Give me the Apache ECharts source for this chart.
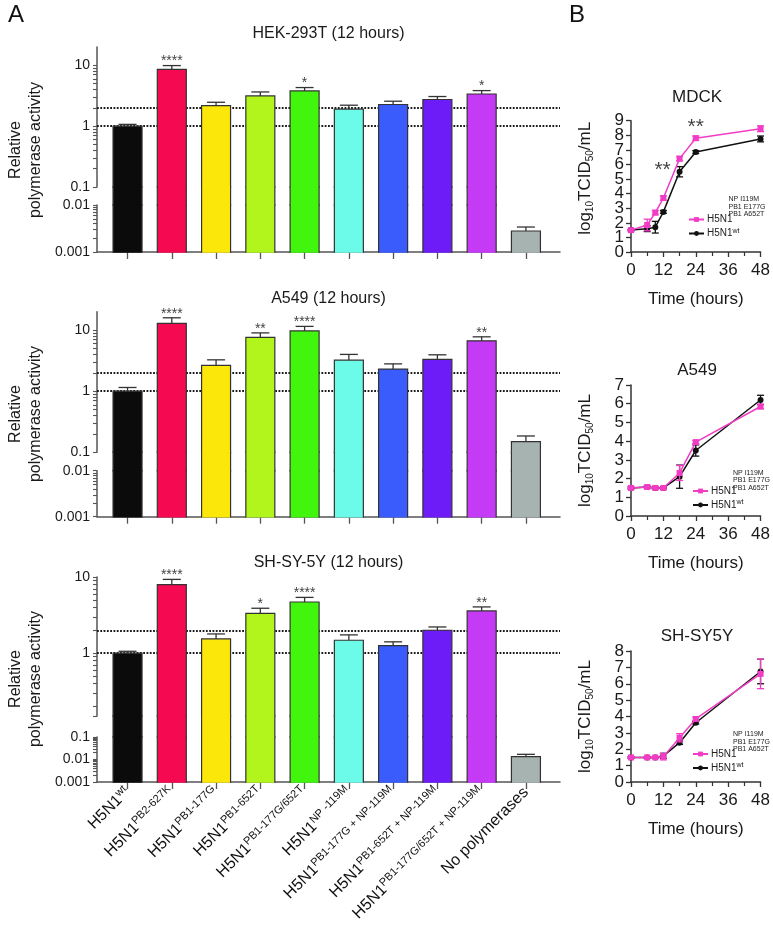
<!DOCTYPE html>
<html>
<head>
<meta charset="utf-8">
<script src="https://cdn.jsdelivr.net/npm/echarts@6/dist/echarts.min.js"></script>
<style>
  html, body { margin: 0; padding: 0; background: #fff; }
  #chart { width: 773px; height: 940px; }
</style>
</head>
<body>
<div id="chart"></div>
<script>
// ---- data: panel A (relative polymerase activity, 12 h) ----
const strainBase = ['H5N1', 'H5N1', 'H5N1', 'H5N1', 'H5N1', 'H5N1', 'H5N1', 'H5N1', 'H5N1', 'No polymerases']
const strainSup = ['wt', 'PB2-627K', 'PB1-177G', 'PB1-652T', 'PB1-177G/652T', 'NP -119M',
  'PB1-177G + NP-119M', 'PB1-652T + NP-119M', 'PB1-177G/652T + NP-119M', '']
const barColors = ['#0b0b0b', '#f50a52', '#fbe80a', '#b2f51c', '#42f50c', '#6cfbe8', '#3a5cfc', '#6d1cf8', '#c53bf5', '#a7b3b1']

const hekValues = [1.0, 8.6, 2.18, 3.14, 3.79, 1.9, 2.27, 2.74, 3.38, 0.0028]
const hekErrTop = [1.07, 9.9, 2.47, 3.65, 4.31, 2.21, 2.57, 3.07, 3.84, 0.0034]
const hekStars = ['', '****', '', '', '*', '', '', '', '*', '']

const a549Values = [1.0, 12.9, 2.64, 7.6, 9.7, 3.22, 2.3, 3.31, 6.68, 0.15]
const a549ErrTop = [1.15, 15.9, 3.26, 9.0, 11.5, 4.0, 2.8, 3.94, 7.76, 0.185]
const a549Stars = ['', '****', '', '**', '****', '', '', '', '**', '']

const shValues = [1.0, 7.95, 1.54, 3.34, 4.7, 1.48, 1.26, 2.0, 3.59, 0.0133]
const shErrTop = [1.06, 9.3, 1.79, 3.89, 5.4, 1.74, 1.41, 2.21, 4.05, 0.017]
const shStars = ['', '****', '', '*', '****', '', '', '', '**', '']

const thresholdLines = [1, 2]

// ---- data: panel B (growth curves) ----
const hours = [0, 6, 9, 12, 18, 24, 48]
const hourTicks = [0, 12, 24, 36, 48]

const mdckMut = [1.5, 1.85, 2.7, 3.7, 6.4, 7.8, 8.45]
const mdckMutErr = [0.05, 0.4, 0.15, 0.15, 0.15, 0.15, 0.2]
const mdckWt = [1.5, 1.6, 1.7, 2.75, 5.5, 6.85, 7.75]
const mdckWtErr = [0.05, 0.2, 0.4, 0.1, 0.35, 0.1, 0.2]
const mdckStarPoints = [[11.7, 5.62], [24, 8.58]]

const a549Mut = [1.5, 1.55, 1.5, 1.5, 2.3, 3.95, 5.85]
const a549MutErr = [0.05, 0.05, 0.05, 0.05, 0.4, 0.08, 0.12]
const a549Wt = [1.5, 1.55, 1.5, 1.5, 2.1, 3.5, 6.2]
const a549WtErr = [0.05, 0.05, 0.05, 0.05, 0.62, 0.3, 0.25]

const shMut = [1.5, 1.5, 1.5, 1.55, 2.7, 3.85, 6.6]
const shMutErr = [0.05, 0.05, 0.05, 0.2, 0.25, 0.1, 0.9]
const shWt = [1.5, 1.5, 1.5, 1.6, 2.4, 3.62, 6.75]
const shWtErr = [0.05, 0.05, 0.05, 0.15, 0.1, 0.08, 0.75]

const MUT_NAME = 'H5N1 NP I119M PB1 E177G PB1 A652T'
const WT_NAME = 'H5N1 wt'
const MUT_COLOR = '#f23cc6'
const WT_COLOR = '#111111'

const FONT = '"Liberation Sans", Arial, Helvetica, sans-serif'
const AXIS_A = '#555555'
const BAR_EDGE = '#333333'
const BAR_WIDTH = 29
const GRID_A_LEFT = 97
const GRID_A_WIDTH = 463

const chart = echarts.init(document.getElementById('chart'))

// log minor ticks 2..9 inside a range
function minorValues(min, max) {
  const out = []
  for (let d = -4; d <= 2; d++) {
    for (let k = 2; k <= 9; k++) {
      const v = +(k * Math.pow(10, d)).toPrecision(3)
      if (v > min && v < max) out.push(v)
    }
  }
  return out
}
const fmtNum = (v) => String(+(+v).toPrecision(6))

const panelA = [
  {
    title: 'HEK-293T (12 hours)', titleTop: 26, values: hekValues, errTop: hekErrTop, stars: hekStars, showLabels: false,
    nameY: 150,
    segments: [
      { top: 47, height: 140, min: 0.1, max: 20, ticks: [0.1, 1, 10], labels: [0.1, 1, 10] },
      { top: 187, height: 18, min: 0.01, max: 0.1 },
      { top: 205, height: 47, min: 0.001, max: 0.01, ticks: [0.001, 0.01], labels: [0.001, 0.01] },
    ],
  },
  {
    title: 'A549 (12 hours)', titleTop: 291, values: a549Values, errTop: a549ErrTop, stars: a549Stars, showLabels: false,
    nameY: 414,
    segments: [
      { top: 311.7, height: 140.6, min: 0.1, max: 20, ticks: [0.1, 1, 10], labels: [0.1, 1, 10] },
      { top: 452.3, height: 18.4, min: 0.01, max: 0.1 },
      { top: 470.7, height: 46, min: 0.001, max: 0.01, ticks: [0.001, 0.01], labels: [0.001, 0.01] },
    ],
  },
  {
    title: 'SH-SY-5Y (12 hours)', titleTop: 555, values: shValues, errTop: shErrTop, stars: shStars, showLabels: true,
    nameY: 679,
    segments: [
      { top: 577, height: 139, min: 0.15, max: 10, ticks: [0.15, 1, 10], labels: [1, 10] },
      { top: 716, height: 21, min: 0.1, max: 0.15 },
      { top: 737, height: 45, min: 0.001, max: 0.1, ticks: [0.001, 0.01, 0.1], labels: [0.001, 0.01, 0.1] },
    ],
  },
]

const panelB = [
  {
    title: 'MDCK', titleTop: 88.5, top: 120.7, height: 131.3, yMax: 9, nameShift: 16,
    mut: mdckMut, mutErr: mdckMutErr, wt: mdckWt, wtErr: mdckWtErr, stars: mdckStarPoints,
    legendLeft: 688, legendTop: 214.5, supLeft: 728.5, supTop: 195.2,
  },
  {
    title: 'A549', titleTop: 361.5, top: 385, height: 131, yMax: 7, nameShift: 0,
    mut: a549Mut, mutErr: a549MutErr, wt: a549Wt, wtErr: a549WtErr, stars: [],
    legendLeft: 692, legendTop: 486, supLeft: 733, supTop: 468.9,
  },
  {
    title: 'SH-SY5Y', titleTop: 627.5, top: 651, height: 131, yMax: 8, nameShift: 0,
    mut: shMut, mutErr: shMutErr, wt: shWt, wtErr: shWtErr, stars: [],
    legendLeft: 692, legendTop: 749, supLeft: 733, supTop: 730.5,
  },
]

function makeBarRenderer(panel, isUpper) {
  return function (params, api) {
    const i = api.value(0)
    const v = api.value(1)
    const e = api.value(2)
    const cs = params.coordSys
    const top = cs.y
    const bottom = cs.y + cs.height
    const clamp = (y) => Math.min(bottom, Math.max(top, y))
    const pv = api.coord([i, v])
    const cx = pv[0]
    const yv = pv[1]
    const ye = api.coord([i, e])[1]
    const half = BAR_WIDTH / 2
    const kids = []
    const yTop = clamp(yv)
    if (bottom - yTop > 0.01) {
      // fill overlaps the next segment a little so the break shows no seam
      const yFillTop = yv >= top ? yTop : yTop - 0.8
      kids.push({ type: 'rect', shape: { x: cx - half, y: yFillTop, width: BAR_WIDTH, height: bottom - yFillTop + 0.8 }, style: { fill: barColors[i] } })
      if (yv >= top) {
        kids.push({ type: 'polyline', shape: { points: [[cx - half, bottom + 0.8], [cx - half, yTop], [cx + half, yTop], [cx + half, bottom + 0.8]] },
          style: { stroke: BAR_EDGE, lineWidth: 1.2, fill: null } })
      } else {
        kids.push({ type: 'line', shape: { x1: cx - half, y1: top - 0.8, x2: cx - half, y2: bottom + 0.8 }, style: { stroke: BAR_EDGE, lineWidth: 1.2 } })
        kids.push({ type: 'line', shape: { x1: cx + half, y1: top - 0.8, x2: cx + half, y2: bottom + 0.8 }, style: { stroke: BAR_EDGE, lineWidth: 1.2 } })
      }
    }
    const e0 = clamp(yv)
    const e1 = clamp(ye)
    if (e0 - e1 > 0.01) {
      kids.push({ type: 'line', shape: { x1: cx, y1: e0, x2: cx, y2: e1 }, style: { stroke: BAR_EDGE, lineWidth: 1.3 } })
    }
    if (ye >= top - 0.5 && ye <= bottom) {
      kids.push({ type: 'line', shape: { x1: cx - 9, y1: ye, x2: cx + 9, y2: ye }, style: { stroke: BAR_EDGE, lineWidth: 1.3 } })
    }
    if (isUpper && panel.stars[i]) {
      kids.push({ type: 'text', x: cx, y: ye - 4,
        style: { text: panel.stars[i], fontSize: 14, fontFamily: FONT, fill: '#444',
          align: 'center', verticalAlign: 'middle', textAlign: 'center', textVerticalAlign: 'middle' } })
    }
    return { type: 'group', children: kids }
  }
}

function makeErrorRenderer(color) {
  return function (params, api) {
    const t = api.value(0)
    const v = api.value(1)
    const err = api.value(2)
    const lo = api.coord([t, v - err])
    const hi = api.coord([t, v + err])
    const style = { stroke: color, lineWidth: 1.3 }
    return {
      type: 'group',
      children: [
        { type: 'line', shape: { x1: lo[0], y1: lo[1], x2: hi[0], y2: hi[1] }, style },
        { type: 'line', shape: { x1: lo[0] - 3.5, y1: lo[1], x2: lo[0] + 3.5, y2: lo[1] }, style },
        { type: 'line', shape: { x1: hi[0] - 3.5, y1: hi[1], x2: hi[0] + 3.5, y2: hi[1] }, style },
      ],
    }
  }
}

const option = {
  animation: false,
  textStyle: { fontFamily: FONT },
  title: [],
  grid: [],
  xAxis: [],
  yAxis: [],
  series: [],
  legend: [],
  graphic: [],
}

const barIdx = strainBase.map((_, i) => i)
const xRich = {
  m: { fontSize: 16, fontFamily: FONT, color: '#111', lineHeight: 19 },
  s: { fontSize: 11, fontFamily: FONT, color: '#111', verticalAlign: 'top', lineHeight: 19 },
}

let g = 0

panelA.forEach((p) => {
  option.title.push({
    text: p.title, left: 328.5, top: p.titleTop, textAlign: 'center', padding: 0,
    textStyle: { fontSize: 16, fontWeight: 'normal', color: '#1a1a1a', fontFamily: FONT },
  })
  option.graphic.push({
    type: 'text', x: 26, y: p.nameY, rotation: Math.PI / 2,
    style: { text: 'Relative\npolymerase activity', fontSize: 16, lineHeight: 20, fontFamily: FONT, fill: '#1a1a1a',
      align: 'center', verticalAlign: 'middle', textAlign: 'center', textVerticalAlign: 'middle' },
  })
  p.segments.forEach((s, si) => {
    const isLower = si === 2
    const isMiddle = si === 1
    option.grid.push({ left: GRID_A_LEFT, width: GRID_A_WIDTH, top: s.top, height: s.height })
    option.xAxis.push({
      type: 'value', gridIndex: g, min: -0.69, max: 9.77, show: isLower, position: 'bottom',
      splitLine: { show: false },
      axisLine: { show: true, onZero: false, lineStyle: { color: AXIS_A, width: 1.5 } },
      axisTick: { show: true, customValues: barIdx, length: 7, lineStyle: { color: AXIS_A, width: 1.3 } },
      axisLabel: {
        show: isLower && p.showLabels, customValues: barIdx, rotate: 45, margin: 8, interval: 0,
        formatter: (v) => {
          const k = Math.round(v)
          return strainSup[k] ? '{m|' + strainBase[k] + '}{s|' + strainSup[k] + '}' : '{m|' + strainBase[k] + '}'
        },
        rich: xRich,
      },
    })
    const tickVals = isMiddle ? [] : s.ticks.concat(minorValues(s.min, s.max)).sort((a, b) => a - b)
    option.yAxis.push({
      type: 'log', logBase: 10, gridIndex: g, min: s.min, max: s.max, show: !isMiddle, position: 'left',
      splitLine: { show: false },
      axisLine: { show: true, onZero: false, lineStyle: { color: AXIS_A, width: 1.5 } },
      axisTick: { show: true, customValues: tickVals, length: 4, lineStyle: { color: AXIS_A, width: 1.1 } },
      axisLabel: { show: true, customValues: s.labels, formatter: fmtNum, fontSize: 14, margin: 7, color: '#1a1a1a' },
    })
    const seriesItem = {
      type: 'custom', name: p.title + ' ' + si, xAxisIndex: g, yAxisIndex: g, z: 4,
      renderItem: makeBarRenderer(p, si === 0),
      encode: { x: 0, y: 1 },
      data: p.values.map((v, i) => [i, v, p.errTop[i]]),
    }
    if (si === 0) {
      seriesItem.markLine = {
        silent: true, symbol: ['none', 'none'], z: 2, animation: false,
        label: { show: false },
        lineStyle: { type: [1.8, 1.5], color: '#1a1a1a', width: 2 },
        data: thresholdLines.map((y) => ({ yAxis: y })),
      }
    }
    option.series.push(seriesItem)
    g++
  })
})

const legendRich = {
  m: { fontSize: 10, fontFamily: FONT, color: '#222', lineHeight: 12 },
  s: { fontSize: 7, fontFamily: FONT, color: '#222', verticalAlign: 'top', lineHeight: 12 },
}

panelB.forEach((p) => {
  option.title.push({
    text: p.title, left: 697, top: p.titleTop, textAlign: 'center', padding: 0,
    textStyle: { fontSize: 17, fontWeight: 'normal', color: '#1a1a1a', fontFamily: FONT },
  })
  option.grid.push({ left: 631, width: 131.7, top: p.top, height: p.height })
  option.xAxis.push({
    type: 'value', gridIndex: g, min: 0, max: 48, interval: 12,
    name: 'Time (hours)', nameLocation: 'middle', nameGap: 39,
    nameTextStyle: { fontSize: 17, color: '#1a1a1a', fontFamily: FONT },
    splitLine: { show: false },
    axisLine: { onZero: false, lineStyle: { color: '#333', width: 1.5 } },
    axisTick: { length: 5, lineStyle: { color: '#333', width: 1.3 } },
    minorTick: { show: true, splitNumber: 2, length: 4, lineStyle: { color: '#333', width: 1.2 } },
    minorSplitLine: { show: false },
    axisLabel: { fontSize: 17, margin: 10, color: '#1a1a1a', customValues: hourTicks, showMinLabel: true, showMaxLabel: true },
  })
  // even labels upward, then odd labels downward: the min/max neighbour check then
  // compares labels two units apart, so the tightly packed 17px digits all stay
  const yLabels = []
  for (let k = 0; k <= p.yMax; k += 2) yLabels.push(k)
  for (let k = p.yMax % 2 === 1 ? p.yMax : p.yMax - 1; k >= 1; k -= 2) yLabels.push(k)
  option.yAxis.push({
    type: 'value', gridIndex: g, min: 0, max: p.yMax, interval: 1,
    name: '{n|log}{s|10}{n|TCID}{s|50}{n|/mL}', nameLocation: 'middle', nameGap: 36,
    nameTextStyle: {
      padding: [0, 0, 0, p.nameShift],
      rich: {
        n: { fontSize: 17, fontFamily: FONT, color: '#1a1a1a', lineHeight: 20 },
        s: { fontSize: 10, fontFamily: FONT, color: '#1a1a1a', verticalAlign: 'bottom', lineHeight: 20 },
      },
    },
    splitLine: { show: false },
    axisLine: { onZero: false, lineStyle: { color: '#333', width: 1.5 } },
    axisTick: { length: 5, lineStyle: { color: '#333', width: 1.3 } },
    axisLabel: {
      fontSize: 17, margin: 7, color: '#1a1a1a', customValues: yLabels,
      showMinLabel: true, showMaxLabel: true, hideOverlap: false,
    },
  })
  option.series.push(
    {
      type: 'line', name: WT_NAME, xAxisIndex: g, yAxisIndex: g, z: 3,
      data: hours.map((t, i) => [t, p.wt[i]]),
      symbol: 'circle', symbolSize: 6,
      lineStyle: { color: WT_COLOR, width: 1.5 }, itemStyle: { color: WT_COLOR },
    },
    {
      type: 'custom', name: 'wt error', xAxisIndex: g, yAxisIndex: g, z: 3,
      renderItem: makeErrorRenderer(WT_COLOR), encode: { x: 0, y: 1 },
      data: hours.map((t, i) => [t, p.wt[i], p.wtErr[i]]),
    },
    {
      type: 'line', name: MUT_NAME, xAxisIndex: g, yAxisIndex: g, z: 4,
      data: hours.map((t, i) => [t, p.mut[i]]),
      symbol: 'rect', symbolSize: 6,
      lineStyle: { color: MUT_COLOR, width: 1.5 }, itemStyle: { color: MUT_COLOR },
    },
    {
      type: 'custom', name: 'mut error', xAxisIndex: g, yAxisIndex: g, z: 4,
      renderItem: makeErrorRenderer(MUT_COLOR), encode: { x: 0, y: 1 },
      data: hours.map((t, i) => [t, p.mut[i], p.mutErr[i]]),
    }
  )
  if (p.stars.length) {
    option.series.push({
      type: 'scatter', name: 'significance', xAxisIndex: g, yAxisIndex: g, z: 5,
      symbol: 'circle', symbolSize: 0, itemStyle: { color: 'rgba(0,0,0,0)' },
      label: { show: true, position: 'inside', formatter: '**', fontSize: 21, color: '#111', fontFamily: FONT },
      data: p.stars,
    })
  }
  option.legend.push({
    data: [MUT_NAME, WT_NAME], left: p.legendLeft, top: p.legendTop, orient: 'vertical',
    padding: 0, itemGap: 3, itemWidth: 15, itemHeight: 6, selectedMode: false,
    formatter: (name) => (name === WT_NAME ? '{m|H5N1}{s|wt}' : '{m|H5N1}'),
    textStyle: { rich: legendRich, padding: [0, 0, 0, -2] },
  })
  option.graphic.push({
    type: 'text', x: p.supLeft, y: p.supTop,
    style: { text: 'NP I119M\nPB1 E177G\nPB1 A652T', fontSize: 7, lineHeight: 7.6, fontFamily: FONT, fill: '#222',
      align: 'left', verticalAlign: 'top', textAlign: 'left', textVerticalAlign: 'top' },
  })
  g++
})

option.graphic.push(
  { type: 'text', x: 8, y: 3, style: { text: 'A', fontSize: 24, fontFamily: FONT, fill: '#111' } },
  { type: 'text', x: 569, y: 3, style: { text: 'B', fontSize: 24, fontFamily: FONT, fill: '#111' } }
)

chart.setOption(option)
</script>
</body>
</html>
